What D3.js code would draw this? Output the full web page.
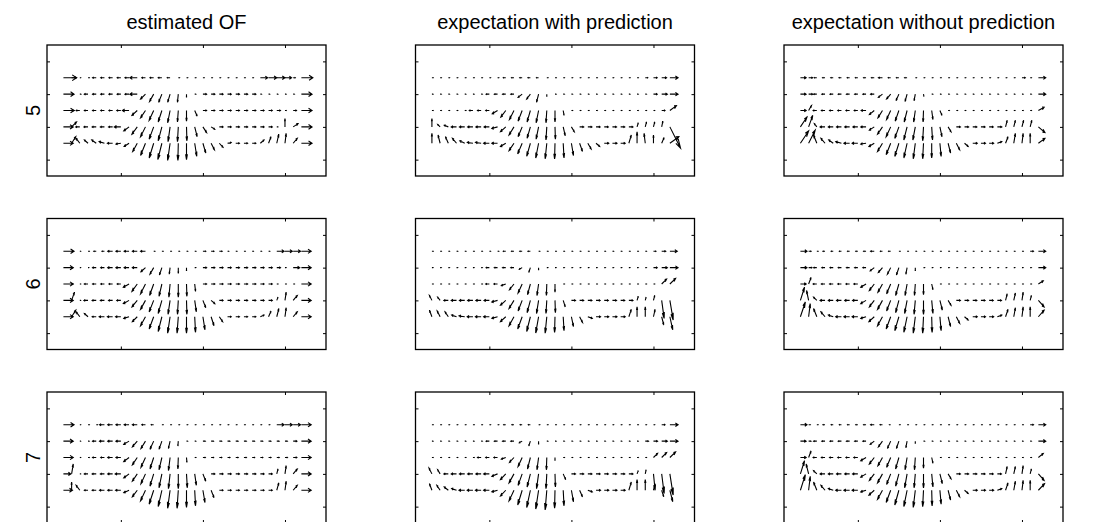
<!DOCTYPE html>
<html>
<head>
<meta charset="utf-8">
<script src="https://cdn.jsdelivr.net/npm/d3@7"></script>
<style>
  body { margin: 0; background: #fff; }
  text { font-family: "Liberation Sans", Arial, sans-serif; }
</style>
</head>
<body>
<svg id="chart"></svg>
<script>
// ─── Labels and grid ───
const colTitles = ["estimated OF", "expectation with prediction", "expectation without prediction"];
const rowLabels = ["5", "6", "7"];
const xCols = [3,4,5,6,7,8,9,10,11,12,13,14,15,16,17,18,19,20,21,22,23,24,25,26,27,28,29,30,31,32];
const yRows = [2, 3, 4, 5, 6];
const xTicks = [10, 20, 30];
const yTicks = [1, 3, 5, 7];

// ─── Flow vectors (u: horizontal, v: downwards), one row per grid row ───
const estU5 = [
  [1.6,0.6,0.1,0.15,-0.45,-0.45,-0.45,-0.45,-0.5,-0.9,-0.45,-0.45,-0.45,-0.35,0.15,0.15,0.15,0.15,0.15,0.15,0.15,0.15,0.15,0.15,0.9,1.0,1.0,0.8,0.25,1.4],
  [1.3,0.15,0.15,-0.45,-0.45,-0.45,-0.45,-0.45,-0.5,-0.9,-0.6,-0.5,-0.4,-0.3,-0.1,0,0.15,0.45,0.45,0.45,0.45,0.45,0.45,0.45,0.15,0.15,0.15,0.15,0.15,1.3],
  [1.3,0.3,-0.45,-0.45,-0.45,-0.45,-0.45,-0.5,-0.8,-0.65,-0.6,-0.55,-0.45,-0.3,-0.1,0,0.3,0.45,0.45,0.45,0.45,0.45,0.45,0.45,0.45,0.45,0.45,0.15,0.4,1.3],
  [1.2,0.6,-0.5,-0.5,-0.5,-0.5,-0.5,-0.8,-0.65,-0.65,-0.6,-0.55,-0.45,-0.25,-0.1,0.05,0.3,0.45,0.45,0.45,0.45,0.45,0.45,0.45,0.45,0.45,0.15,0,0.6,1.3],
  [1.2,0.5,-0.45,-0.45,-0.55,-0.65,-0.65,-0.6,-0.6,-0.55,-0.6,-0.55,-0.5,-0.3,-0.05,0,0.25,0.35,0.4,0.45,0.45,0.45,0.45,0.45,0.45,0.3,0.25,0.15,0.5,1.3]
];
const estV5 = [
  [0,0,0,0,0,0,0,0,0,0,0,0,0,0,0,0,0,0,0,0,0,0,0,0,0,0,0,0,0,0],
  [0,0,0,0,0,0,0,0,0,0,0.3,0.45,0.5,0.5,0.5,0.2,0,0,0,0,0,0,0,0,0,0,0,0,0,0],
  [0,0,0,0,0,0,0,0,0,0.3,0.45,0.6,0.7,0.75,0.7,0.65,0.35,0,0,0,0,0,0,0,0,0,0,0,0,0],
  [0,-0.3,0,0,0,0,0,0,0.25,0.45,0.6,0.75,0.85,0.9,0.9,0.85,0.6,0.35,0.15,0,0,0,0,0,0,0,0,-0.5,-0.2,0],
  [0,-0.4,-0.3,-0.2,-0.2,-0.1,0,0.05,0.2,0.5,0.75,0.9,1.0,1.05,1.05,1.0,0.8,0.6,0.4,0.25,-0.05,0,0,0,-0.2,-0.4,-0.55,-0.6,-0.3,0]
];
const estU6 = [
  [1.3,0.1,0.1,0.15,-0.3,-0.3,-0.6,-0.6,-0.6,-0.6,-0.6,0.15,0.15,0.15,0.15,0.15,0.15,0.35,0.35,0.35,0.15,0.15,0.15,0.15,0.15,0.15,0.9,0.9,0.9,1.2],
  [1.2,0.15,0.1,0.1,-0.45,-0.45,-0.6,-0.6,-0.6,-0.6,-0.55,-0.45,-0.3,-0.1,0,0,0.15,0.45,0.45,0.45,0.45,0.45,0.45,0.45,0.45,0.45,0.45,0.15,0.8,1.2],
  [1.2,0.15,0.1,-0.45,-0.45,-0.45,-0.45,-0.45,-0.7,-0.65,-0.6,-0.5,-0.35,-0.15,0,0.05,0.1,0.45,0.45,0.45,0.45,0.45,0.45,0.45,0.45,0.45,0.15,0.15,0.15,1.2],
  [1.2,0.35,0.1,-0.5,-0.5,-0.5,-0.5,-0.5,-0.7,-0.65,-0.6,-0.55,-0.45,-0.25,-0.1,0.05,0.2,0.35,0.45,0.45,0.45,0.45,0.45,0.45,0.45,0.45,0.15,0.15,0.5,1.2],
  [1.2,0.5,-0.45,-0.45,-0.5,-0.65,-0.65,-0.65,-0.65,-0.6,-0.6,-0.55,-0.45,-0.3,-0.15,0,0.1,0.25,0.35,0.4,0.45,0.45,0.45,0.45,0.45,0.3,0.25,0.15,0.5,1.2]
];
const estV6 = [
  [0,0,0,0,0,0,0,0,0,0,0,0,0,0,0,0,0,0,0,0,0,0,0,0,0,0,0,0,0,0],
  [0,0,0,0,0,0,0,0,0,0,0.25,0.4,0.45,0.4,0.35,0.2,0,0,0,0,0,0,0,0,0,0,0,0,0,0],
  [0,0,0,0,0,0,0,0,0.2,0.45,0.6,0.7,0.75,0.8,0.8,0.75,0.45,0,0,0,0,0,0,0,0,0,0,0,0,0],
  [0,-0.5,0,0,0,0,0,0,0.2,0.4,0.55,0.7,0.8,0.85,0.85,0.85,0.7,0.45,0.2,0,0,0,0,0,0,0,-0.2,-0.5,-0.3,0],
  [0,-0.4,-0.3,-0.2,0,0,0,0,0.1,0.3,0.55,0.75,0.9,1.0,1.0,1.0,0.95,0.8,0.55,0.3,0,0,0,0,-0.1,-0.35,-0.5,-0.55,-0.3,0]
];
const estU7 = [
  [1.3,0.1,0.1,0.15,0.15,-0.6,-0.6,-0.6,-0.6,-0.6,-0.45,-0.3,0.15,0.15,0.15,0.15,0.15,0.15,0.15,0.15,0.15,0.15,0.15,0.15,0.15,0.15,0.9,0.9,0.9,1.2],
  [1.2,0.1,0.1,0.15,-0.45,-0.6,-0.6,-0.6,-0.65,-0.6,-0.55,-0.45,-0.35,-0.2,-0.05,0.15,0.15,0.3,0.3,0.3,0.3,0.3,0.3,0.3,0.3,0.3,0.3,0.3,0.45,1.2],
  [1.2,0.1,0.1,0.15,-0.45,-0.45,-0.6,-0.6,-0.65,-0.6,-0.55,-0.45,-0.35,-0.2,-0.05,0.05,0.15,0.3,0.3,0.3,0.3,0.3,0.3,0.3,0.3,0.3,0.3,0.3,0.45,1.2],
  [0.9,0.2,0.1,-0.45,-0.5,-0.5,-0.6,-0.7,-0.65,-0.6,-0.55,-0.45,-0.35,-0.2,0,0.1,0.2,0.35,0.45,0.45,0.45,0.45,0.45,0.45,0.45,0.45,0.15,0.15,0.5,1.2],
  [1.1,0,-0.45,-0.45,-0.5,-0.6,-0.6,-0.65,-0.65,-0.6,-0.6,-0.55,-0.45,-0.3,-0.15,0,0.1,0.25,0.35,0.45,0.45,0.45,0.45,0.45,0.45,0.45,0.25,0.15,0.5,1.2]
];
const estV7 = [
  [0,0,0,0,0,0,0,0,0,0,0,0,0,0,0,0,0,0,0,0,0,0,0,0,0,0,0,0,0,0],
  [0,0,0,0,0,0,0,0,0.2,0.35,0.45,0.5,0.5,0.45,0.3,0,0,0,0,0,0,0,0,0,0,0,0,0,0,0],
  [0,0,0,0,0,0,0,0,0.25,0.45,0.6,0.7,0.75,0.8,0.7,0.3,0,0,0,0,0,0,0,0,0,0,0,0,0,0],
  [0,-0.6,0,0,0,0,0,0,0.25,0.45,0.6,0.75,0.85,0.9,0.9,0.85,0.7,0.45,0,0,0,0,0,0,0,0,-0.3,-0.5,-0.3,0],
  [0,-0.5,-0.3,0,0,0,0,0,0.15,0.4,0.65,0.85,1.0,1.1,1.1,1.05,0.95,0.75,0.45,0,0,0,0,0,0,0,-0.45,-0.55,-0.3,0]
];

const predU5 = [
  [0.15,0.15,0.15,0.15,0.15,0.15,0.15,0.15,0.15,-0.3,-0.3,-0.3,-0.3,-0.25,0.15,0.15,0.15,0.15,0.15,0.15,0.15,0.15,0.15,0.15,0.15,0.15,0.3,0.45,0.6,1.0],
  [0.15,0.15,0.15,0.15,0.15,0.15,0.15,-0.4,-0.4,-0.4,-0.4,-0.5,-0.45,-0.25,0,0.15,0.15,0.15,0.15,0.15,0.15,0.15,0.15,0.15,0.15,0.15,0.15,0.45,0.7,1.0],
  [0.15,0.15,0.15,0.15,0.15,-0.45,-0.45,-0.45,-0.65,-0.6,-0.55,-0.5,-0.4,-0.3,-0.1,0,0.1,0.15,0.15,0.15,0.15,0.15,0.15,0.15,0.15,0.15,0.15,0.15,0.4,0.8],
  [0,-0.3,-0.5,-0.65,-0.65,-0.65,-0.65,-0.65,-0.7,-0.65,-0.6,-0.5,-0.4,-0.3,-0.1,0.05,0.25,0.35,0.5,0.5,0.5,0.5,0.5,0.5,0.5,0.15,0.15,0.15,0.15,1.3],
  [0,-0.25,-0.35,-0.5,-0.6,-0.7,-0.7,-0.7,-0.7,-0.65,-0.6,-0.55,-0.45,-0.35,-0.2,-0.05,0.1,0.25,0.35,0.4,0.45,0.55,0.55,0.55,0.3,0,-0.15,0,0.3,1.1]
];
const predV5 = [
  [0,0,0,0,0,0,0,0,0,0,0,0,0,0,0,0,0,0,0,0,0,0,0,0,0,0,0,0,0,0],
  [0,0,0,0,0,0,0,0,0,0,0,0.2,0.3,0.5,0.15,0,0,0,0,0,0,0,0,0,0,0,0,0,0,0],
  [0,0,0,0,0,0,0,0,0.2,0.4,0.55,0.65,0.7,0.75,0.75,0.7,0.3,0,0,0,0,0,0,0,0,0,0,0,0,-0.3],
  [-0.5,-0.15,-0.1,0,0,0,0,0,0.1,0.3,0.5,0.6,0.7,0.75,0.8,0.75,0.55,0.3,0,0,0,0,0,0,0,-0.25,-0.3,-0.3,-0.35,1.3],
  [-0.6,-0.5,-0.4,-0.3,-0.15,-0.05,-0.05,0,0,0.2,0.45,0.65,0.8,0.9,0.95,0.95,0.9,0.75,0.5,0.35,0.2,0,0,0,-0.5,-0.7,-0.6,-0.5,-0.35,-0.4]
];
const predU6 = [
  [0.15,0.15,0.15,0.15,0.15,0.15,0.15,0.15,0.15,-0.3,-0.3,-0.3,-0.3,0.15,0.15,0.15,0.15,0.15,0.15,0.15,0.15,0.15,0.15,0.15,0.15,0.15,0.15,0.3,0.5,0.9],
  [0.15,0.15,0.15,0.15,0.15,0.15,0.15,-0.4,-0.4,-0.4,-0.4,-0.35,-0.2,0,0.15,0.15,0.15,0.15,0.15,0.15,0.15,0.15,0.15,0.15,0.15,0.15,0.15,0.45,0.7,1.0],
  [0.15,0.15,0.15,0.15,0.15,0.15,0.15,-0.45,-0.45,-0.55,-0.55,-0.5,-0.35,-0.2,-0.05,0,0.15,0.15,0.15,0.15,0.15,0.15,0.15,0.15,0.15,0.15,0.15,0.15,0.6,0.7],
  [-0.3,-0.3,-0.55,-0.65,-0.65,-0.65,-0.65,-0.65,-0.7,-0.65,-0.6,-0.5,-0.4,-0.25,-0.1,0.05,0.25,0.5,0.5,0.5,0.5,0.5,0.5,0.5,0.5,0.15,0.1,0.15,0.3,0.4],
  [-0.3,-0.35,-0.4,-0.6,-0.7,-0.7,-0.7,-0.7,-0.7,-0.65,-0.6,-0.55,-0.45,-0.35,-0.2,-0.05,0.1,0.25,0.35,0.55,0.55,0.55,0.55,0.55,0.3,0,0,0.2,0.25,0.35]
];
const predV6 = [
  [0,0,0,0,0,0,0,0,0,0,0,0,0,0,0,0,0,0,0,0,0,0,0,0,0,0,0,0,0,0],
  [0,0,0,0,0,0,0,0,0,0,0,0.1,0.3,0.15,0,0,0,0,0,0,0,0,0,0,0,0,0,0,0,0],
  [0,0,0,0,0,0,0,0,0,0.1,0.35,0.55,0.65,0.7,0.7,0.5,0,0,0,0,0,0,0,0,0,0,0,0,-0.3,-0.35],
  [-0.3,-0.2,0,0,0,0,0,0,0.1,0.3,0.5,0.65,0.75,0.8,0.8,0.75,0.4,0,0,0,0,0,0,0,0,-0.25,-0.2,-0.3,1.1,1.2],
  [-0.4,-0.35,-0.3,-0.1,-0.05,0,0,0,0.1,0.3,0.55,0.75,0.9,1.0,1.0,0.95,0.85,0.6,0.35,0.1,0,0,0,0,-0.45,-0.6,-0.6,-0.45,0.5,0.8]
];
const predU7 = [
  [0.15,0.15,0.15,0.15,0.15,0.15,0.15,0.15,0.15,-0.25,-0.25,-0.25,-0.25,0.15,0.15,0.15,0.15,0.15,0.15,0.15,0.15,0.15,0.15,0.15,0.15,0.15,0.15,0.15,0.4,1.0],
  [0.15,0.15,0.15,0.15,0.15,0.15,0.15,-0.4,-0.4,-0.4,-0.4,-0.35,-0.2,0,0.15,0.15,0.15,0.15,0.15,0.15,0.15,0.15,0.15,0.15,0.15,0.15,0.4,0.5,0.7,1.0],
  [0.15,0.15,0.15,0.15,0.15,0.15,-0.45,-0.45,-0.45,-0.55,-0.55,-0.5,-0.35,-0.2,-0.05,0,0.15,0.15,0.15,0.15,0.15,0.15,0.15,0.15,0.15,0.15,0.15,0.5,0.6,0.7],
  [-0.35,-0.3,-0.55,-0.65,-0.65,-0.65,-0.65,-0.7,-0.7,-0.65,-0.6,-0.5,-0.4,-0.25,-0.1,0.05,0.3,0.5,0.5,0.5,0.5,0.5,0.5,0.5,0.5,0.15,0.1,0.2,0.3,0.4],
  [-0.3,-0.4,-0.5,-0.6,-0.7,-0.7,-0.7,-0.7,-0.7,-0.65,-0.6,-0.55,-0.45,-0.35,-0.2,-0.05,0.1,0.25,0.35,0.55,0.55,0.55,0.55,0.55,0.3,0,0,0.2,0.25,0.35]
];
const predV7 = [
  [0,0,0,0,0,0,0,0,0,0,0,0,0,0,0,0,0,0,0,0,0,0,0,0,0,0,0,0,0,0],
  [0,0,0,0,0,0,0,0,0,0,0,0.1,0.3,0.2,0,0,0,0,0,0,0,0,0,0,0,0,0,0,0,0],
  [0,0,0,0,0,0,0,0,0,0.1,0.3,0.55,0.7,0.75,0.75,0.2,0,0,0,0,0,0,0,0,0,0,0,-0.25,-0.3,-0.35],
  [-0.35,-0.25,0,0,0,0,0,0,0.15,0.35,0.55,0.7,0.8,0.9,0.9,0.8,0.35,0,0,0,0,0,0,0,0,-0.2,-0.25,1.0,1.2,1.3],
  [-0.4,-0.3,-0.2,-0.1,0,0,0,0,0.1,0.35,0.65,0.9,1.05,1.15,1.2,1.1,0.95,0.7,0.4,0.1,0,0,0,0,-0.5,-0.65,-0.65,-0.4,0.4,0.7]
];

const noPredU5 = [
  [0.7,0.5,-0.3,-0.3,-0.3,-0.3,-0.3,-0.3,-0.3,-0.35,-0.5,-0.3,-0.3,-0.3,0.15,0.15,0.15,0.15,0.15,0.15,0.15,0.15,0.15,0.15,0.15,0.15,0.15,0.4,0.15,0.9],
  [0.7,0.5,-0.4,-0.4,-0.4,-0.4,-0.4,-0.4,-0.4,-0.45,-0.5,-0.5,-0.35,-0.25,-0.15,0.05,0.15,0.15,0.15,0.15,0.15,0.15,0.15,0.15,0.15,0.15,0.15,0.15,0.15,0.9],
  [0.7,0.35,-0.45,-0.45,-0.45,-0.45,-0.45,-0.45,-0.6,-0.6,-0.55,-0.5,-0.45,-0.35,-0.2,-0.05,0.15,0.25,0.15,0.15,0.15,0.15,0.15,0.15,0.15,0.15,0.15,0.15,0.15,0.7],
  [0.8,0.5,-0.3,-0.6,-0.6,-0.6,-0.6,-0.6,-0.65,-0.6,-0.6,-0.55,-0.5,-0.4,-0.3,-0.1,0.1,0.25,0.35,0.5,0.5,0.5,0.5,0.5,0.55,0.2,0.2,0.2,0.2,0.8],
  [1.0,0.8,-0.4,-0.5,-0.55,-0.7,-0.7,-0.7,-0.65,-0.65,-0.6,-0.55,-0.5,-0.4,-0.25,-0.1,0,0.15,0.3,0.4,0.45,0.55,0.55,0.55,0.55,0.3,0.2,0.15,0,0.8]
];
const noPredV5 = [
  [0,0,0,0,0,0,0,0,0,0,0,0,0,0,0,0,0,0,0,0,0,0,0,0,0,0,0,0,0,0],
  [0,0,0,0,0,0,0,0,0,0,0.2,0.3,0.4,0.45,0.4,0.15,0,0,0,0,0,0,0,0,0,0,0,0,0,0],
  [0,-0.3,0,0,0,0,0,0,0,0.25,0.45,0.55,0.65,0.7,0.7,0.7,0.55,0.3,0,0,0,0,0,0,0,0,0,0,0,-0.2],
  [-0.6,-0.7,-0.2,0,0,0,0,0,0,0.2,0.45,0.6,0.7,0.8,0.8,0.85,0.8,0.6,0.3,0,0,0,0,0,0,-0.4,-0.4,-0.4,-0.4,0.35],
  [-0.75,-0.8,-0.5,-0.3,-0.2,-0.1,0,0,0.05,0.2,0.5,0.7,0.8,0.9,0.95,0.95,0.9,0.8,0.6,0.4,0.2,0,0,0,-0.1,-0.4,-0.6,-0.6,-0.6,-0.3]
];
const noPredU6 = [
  [0.8,0.3,0.15,-0.25,-0.25,-0.25,-0.25,-0.25,-0.3,-0.45,-0.25,-0.25,0.15,0.15,0.15,0.15,0.15,0.15,0.15,0.15,0.15,0.15,0.15,0.15,0.15,0.15,0.15,0.15,0.4,0.9],
  [0.8,0.4,-0.4,-0.4,-0.4,-0.4,-0.4,-0.4,-0.4,-0.5,-0.5,-0.4,-0.3,-0.15,0,0.15,0.15,0.15,0.15,0.15,0.15,0.15,0.15,0.15,0.15,0.15,0.15,0.15,0.15,0.9],
  [0.7,0.3,-0.45,-0.45,-0.45,-0.45,-0.45,-0.5,-0.65,-0.6,-0.55,-0.5,-0.4,-0.25,-0.1,0,0.15,0.15,0.15,0.15,0.15,0.15,0.15,0.15,0.15,0.15,0.15,0.15,0.15,0.6],
  [0.5,-0.25,-0.4,-0.6,-0.6,-0.6,-0.6,-0.65,-0.65,-0.6,-0.6,-0.5,-0.4,-0.3,-0.15,0,0.15,0.3,0.35,0.5,0.5,0.5,0.5,0.5,0.5,0.2,0.2,0.15,0.15,0.7],
  [0.6,0.2,-0.4,-0.5,-0.6,-0.7,-0.7,-0.7,-0.65,-0.65,-0.6,-0.55,-0.5,-0.4,-0.25,-0.1,0.05,0.15,0.3,0.4,0.45,0.55,0.55,0.55,0.55,0.3,0.2,0.15,0,0.7]
];
const noPredV6 = [
  [0,0,0,0,0,0,0,0,0,0,0,0,0,0,0,0,0,0,0,0,0,0,0,0,0,0,0,0,0,0],
  [0,0,0,0,0,0,0,0,0,0.2,0.3,0.4,0.45,0.4,0.2,0,0,0,0,0,0,0,0,0,0,0,0,0,0,0],
  [0,-0.4,0,0,0,0,0,0,0.2,0.4,0.5,0.6,0.7,0.7,0.7,0.65,0.35,0,0,0,0,0,0,0,0,0,0,0,0,-0.2],
  [-0.8,-0.6,-0.2,0,0,0,0,0,0.2,0.4,0.55,0.65,0.75,0.8,0.85,0.85,0.8,0.6,0.3,0,0,0,0,0,0,-0.4,-0.45,-0.5,-0.3,0.4],
  [-0.9,-0.8,-0.5,-0.3,-0.1,0,0,0,0.1,0.3,0.55,0.75,0.85,0.95,1.0,1.0,0.95,0.85,0.6,0.4,0.2,0,0,0,-0.1,-0.45,-0.55,-0.6,-0.6,-0.4]
];
const noPredU7 = [
  [0.8,0.2,0.15,-0.25,-0.25,-0.25,-0.25,-0.25,-0.3,-0.45,-0.3,-0.15,0.15,0.15,0.15,0.15,0.15,0.15,0.15,0.15,0.15,0.15,0.15,0.15,0.15,0.15,0.15,0.15,0.4,0.9],
  [0.7,0.3,-0.4,-0.4,-0.4,-0.4,-0.4,-0.4,-0.4,-0.5,-0.5,-0.4,-0.3,-0.15,0,0.15,0.15,0.15,0.15,0.15,0.15,0.15,0.15,0.15,0.15,0.15,0.15,0.15,0.15,0.9],
  [0.7,0.3,-0.45,-0.45,-0.45,-0.45,-0.45,-0.5,-0.65,-0.6,-0.55,-0.5,-0.4,-0.25,-0.1,0,0.15,0.15,0.15,0.15,0.15,0.15,0.15,0.15,0.15,0.15,0.15,0.15,0.15,0.6],
  [0.5,-0.3,-0.4,-0.6,-0.6,-0.6,-0.6,-0.65,-0.65,-0.6,-0.6,-0.5,-0.4,-0.3,-0.15,0,0.15,0.3,0.35,0.5,0.5,0.5,0.5,0.5,0.5,0.2,0.2,0.15,0.15,0.7],
  [0.6,0.2,-0.4,-0.5,-0.6,-0.7,-0.7,-0.7,-0.65,-0.65,-0.6,-0.55,-0.5,-0.4,-0.25,-0.1,0.05,0.15,0.3,0.4,0.45,0.55,0.55,0.55,0.55,0.3,0.2,0.15,0,0.75]
];
const noPredV7 = [
  [0,0,0,0,0,0,0,0,0,0,0,0,0,0,0,0,0,0,0,0,0,0,0,0,0,0,0,0,0,0],
  [0,0,0,0,0,0,0,0,0,0.2,0.35,0.45,0.45,0.4,0.15,0,0,0,0,0,0,0,0,0,0,0,0,0,0,0],
  [0,-0.4,0,0,0,0,0,0,0.2,0.4,0.5,0.6,0.7,0.75,0.75,0.65,0.35,0,0,0,0,0,0,0,0,0,0,0,0,-0.25],
  [-0.8,-0.6,-0.2,0,0,0,0,0,0.2,0.4,0.55,0.65,0.75,0.85,0.85,0.85,0.8,0.6,0.3,0,0,0,0,0,0,-0.45,-0.45,-0.5,-0.3,0.4],
  [-0.95,-0.85,-0.5,-0.3,-0.1,0,0,0,0.1,0.3,0.55,0.75,0.9,1.0,1.05,1.0,0.95,0.85,0.6,0.4,0.2,0,0,0,-0.1,-0.45,-0.55,-0.6,-0.6,-0.4]
];

// panels[row][col]
const panels = [
  [{ u: estU5, v: estV5 }, { u: predU5, v: predV5 }, { u: noPredU5, v: noPredV5 }],
  [{ u: estU6, v: estV6 }, { u: predU6, v: predV6 }, { u: noPredU6, v: noPredV6 }],
  [{ u: estU7, v: estV7 }, { u: predU7, v: predV7 }, { u: noPredU7, v: noPredV7 }]
];

// ─── Layout ───
const W = 1099, H = 522;
const panelLeft = [47, 415.5, 784];
const panelTop  = [45, 218.5, 392];
const pw = 279, ph = 131;

const svg = d3.select("#chart").attr("width", W).attr("height", H);
svg.append("rect").attr("width", W).attr("height", H).attr("fill", "#fff");

const x = d3.scaleLinear().domain([1, 35]).range([0, pw]);
const y = d3.scaleLinear().domain([0, 8]).range([0, ph]);   // image axis: y grows downwards

// quiver arrow, head built in data units like MATLAB (alpha = beta = 0.33)
const alpha = 0.33, beta = 0.33;
function arrowPath(x0, y0, u, v) {
  const x1 = x0 + u, y1 = y0 + v;
  const ax = x1 - alpha * (u + beta * v), ay = y1 - alpha * (v - beta * u);
  const bx = x1 - alpha * (u - beta * v), by = y1 - alpha * (v + beta * u);
  return `M${x(x0)},${y(y0)}L${x(x1)},${y(y1)}` +
         `M${x(ax)},${y(ay)}L${x(x1)},${y(y1)}L${x(bx)},${y(by)}`;
}

// ─── Column titles ───
svg.selectAll(".title")
  .data(colTitles).enter().append("text")
    .attr("class", "title")
    .attr("x", (d, i) => panelLeft[i] + pw / 2)
    .attr("y", 29)
    .attr("text-anchor", "middle")
    .attr("font-size", 20)
    .attr("fill", "#000")
    .text(d => d);

// ─── Row labels ───
svg.selectAll(".rowlabel")
  .data(rowLabels).enter().append("text")
    .attr("class", "rowlabel")
    .attr("transform", (d, i) => `translate(40,${panelTop[i] + ph / 2}) rotate(-90)`)
    .attr("text-anchor", "middle")
    .attr("font-size", 20)
    .attr("fill", "#000")
    .text(d => d);

// ─── Panels ───
panels.forEach((row, ri) => {
  row.forEach((p, ci) => {
    const g = svg.append("g")
      .attr("transform", `translate(${panelLeft[ci]},${panelTop[ri]})`);

    // inward ticks on all four sides
    const axes = [
      { ax: d3.axisBottom(x).tickValues(xTicks), t: `translate(0,${ph})` },
      { ax: d3.axisTop(x).tickValues(xTicks),    t: "translate(0,0)" },
      { ax: d3.axisLeft(y).tickValues(yTicks),   t: "translate(0,0)" },
      { ax: d3.axisRight(y).tickValues(yTicks),  t: `translate(${pw},0)` }
    ];
    axes.forEach(a => {
      const ag = g.append("g").attr("transform", a.t)
        .call(a.ax.tickSizeInner(-3).tickSizeOuter(0).tickFormat(""));
      ag.select(".domain").remove();
      ag.selectAll("line").attr("stroke", "#000").attr("stroke-width", 1);
    });

    // box
    g.append("rect")
      .attr("x", 0).attr("y", 0)
      .attr("width", pw).attr("height", ph)
      .attr("fill", "none")
      .attr("stroke", "#000")
      .attr("stroke-width", 1.3);

    // arrows
    const vecs = [];
    yRows.forEach((yr, r) => {
      xCols.forEach((xc, c) => {
        vecs.push({ x0: xc, y0: yr, u: p.u[r][c], v: p.v[r][c] });
      });
    });
    g.selectAll(".arrow")
      .data(vecs.filter(d => d.u !== 0 || d.v !== 0)).enter().append("path")
        .attr("class", "arrow")
        .attr("d", d => arrowPath(d.x0, d.y0, d.u, d.v))
        .attr("fill", "none")
        .attr("stroke", "#000")
        .attr("stroke-width", 1.1);
  });
});
</script>
</body>
</html>
